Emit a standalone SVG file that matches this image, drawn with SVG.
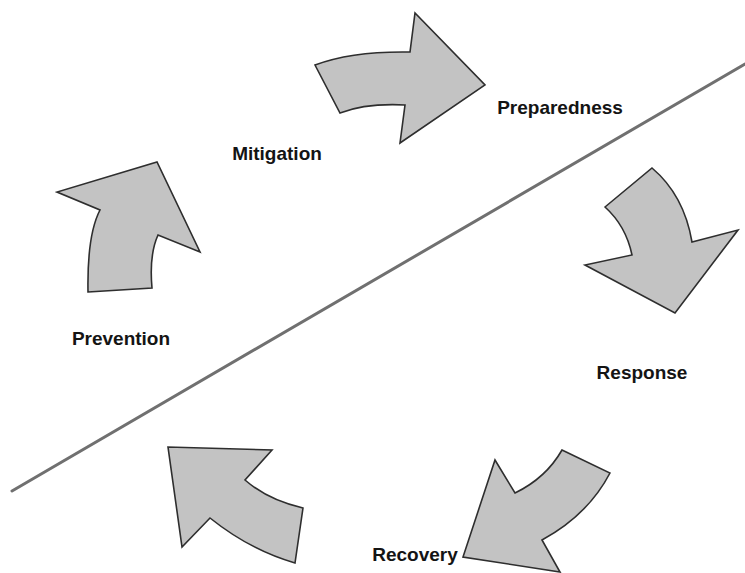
<svg xmlns="http://www.w3.org/2000/svg" width="745" height="573" viewBox="0 0 745 573">
<style>
.arrow{fill:#c3c3c3;stroke:#2e2e2e;stroke-width:1.6;stroke-linejoin:miter}
.lbl{font-family:"Liberation Sans",Arial,sans-serif;font-weight:bold;font-size:19px;fill:#141414;text-anchor:middle}
.divider{stroke:#707070;stroke-width:3;stroke-linecap:round;fill:none}
</style>
<rect width="745" height="573" fill="#ffffff"/>
<g id="connectors">
<line class="divider" x1="12" y1="491" x2="745" y2="64"/>
<path id="arrow-mitigation-preparedness" class="arrow" d="M315,65 Q352,51 410,52 L415,13 L485,85 L400,143 L405,105 Q366,103 340,113 Z"/>
<path id="arrow-preparedness-response" class="arrow" d="M605,207 L652,168 Q684,195 692,242 L738,230 L675,313 L585,265 L632,255 Q626,226 605,207 Z"/>
<path id="arrow-response-recovery" class="arrow" d="M562,450 L610,473 Q588,515 542,540 L560,572 L463,557 L495,460 L515,493 Q546,478 562,450 Z"/>
<path id="arrow-recovery-prevention" class="arrow" d="M303,508 L295,563 Q250,550 210,518 L182,547 L168,447 L272,450 L245,480 Q268,500 303,508 Z"/>
<path id="arrow-prevention-mitigation" class="arrow" d="M88,292 L152,288 Q149,255 158,235 L200,252 L157,162 L57,192 L100,210 Q87,235 88,292 Z"/>
</g>
<g id="mitigation"><text class="lbl" x="277" y="160">Mitigation</text></g>
<g id="preparedness"><text class="lbl" x="560" y="114">Preparedness</text></g>
<g id="response"><text class="lbl" x="642" y="379">Response</text></g>
<g id="recovery"><text class="lbl" x="415" y="561">Recovery</text></g>
<g id="prevention"><text class="lbl" x="121" y="345">Prevention</text></g>
</svg>
